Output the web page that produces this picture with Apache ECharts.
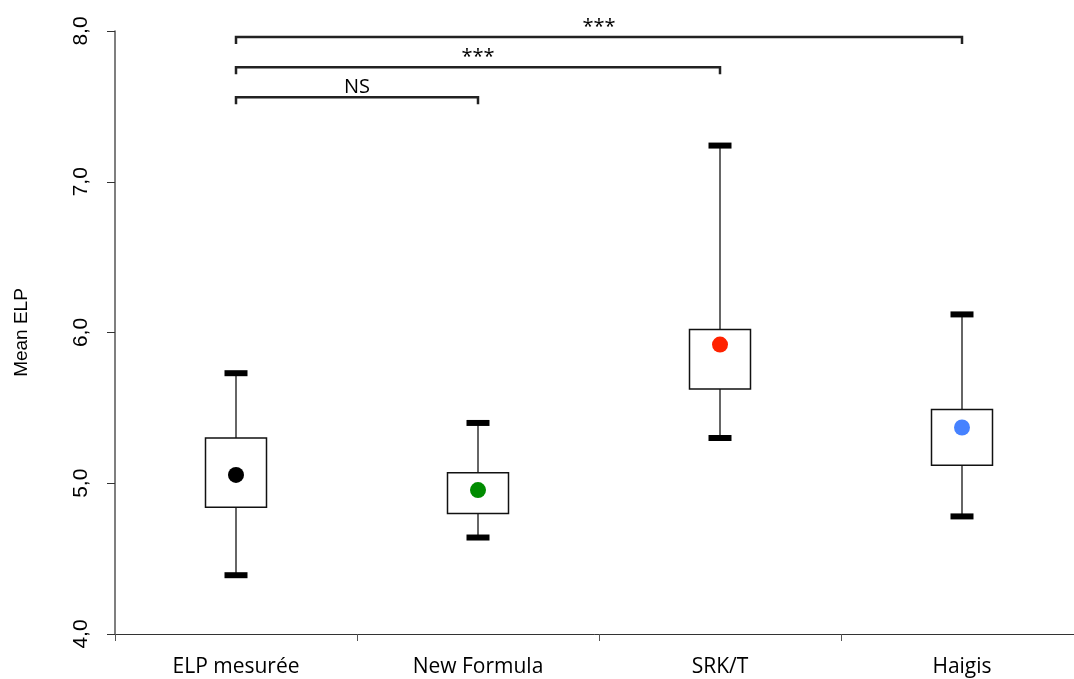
<!DOCTYPE html>
<html>
<head>
<meta charset="utf-8">
<script src="https://cdn.jsdelivr.net/npm/echarts@6/dist/echarts.min.js"></script>
<style>html,body{margin:0;padding:0;background:#fff;}#c{width:1074px;height:679px;}</style>
</head>
<body>
<div id="c"></div>
<script>
var categories = ['ELP mesurée', 'New Formula', 'SRK/T', 'Haigis'];
var whiskerLow  = [4.39, 4.64, 5.30, 4.78];
var boxLow      = [4.84, 4.80, 5.625, 5.12];
var means       = [5.055, 4.955, 5.92, 5.37];
var boxHigh     = [5.30, 5.07, 6.02, 5.49];
var whiskerHigh = [5.73, 5.40, 7.24, 6.12];
var meanColors  = ['#000000', '#008c00', '#ff2200', '#4682ff'];
var yTicks = [4, 5, 6, 7, 8];

// brackets: from category index, to category index, y level, label
var bracketFrom  = [0, 0, 0];
var bracketTo    = [3, 2, 1];
var bracketY     = [7.96, 7.76, 7.56];
var bracketLabel = ['***', '***', 'NS'];

var chart = echarts.init(document.getElementById('c'));

var boxData = categories.map(function (c, i) {
  return [i, whiskerLow[i], boxLow[i], boxHigh[i], whiskerHigh[i]];
});
var meanData = categories.map(function (c, i) {
  return { value: [i, means[i]], itemStyle: { color: meanColors[i], opacity: 1 } };
});
var bracketData = bracketFrom.map(function (f, i) {
  return [f, bracketTo[i], bracketY[i], bracketLabel[i]];
});

chart.setOption({
  animation: false,
  grid: { left: 115, right: -9, top: 31, bottom: 45, containLabel: false, outerBoundsMode: 'none' },
  xAxis: {
    type: 'category',
    data: categories,
    axisLine: { lineStyle: { color: '#333', width: 1 } },
    axisTick: { show: true, length: 7, lineStyle: { color: '#555' } },
    axisLabel: { fontFamily: 'Open Sans', fontSize: 21, color: '#000', margin: 23 }
  },
  yAxis: {
    type: 'value',
    min: 4, max: 8, interval: 1,
    name: 'Mean ELP',
    nameLocation: 'middle',
    nameGap: 84,
    nameTextStyle: { fontFamily: 'Liberation Sans', fontSize: 19, color: '#000' },
    axisLine: { show: true, lineStyle: { color: '#555', width: 1.5 } },
    axisTick: { show: true, length: 8, lineStyle: { color: '#333' } },
    splitLine: { show: false },
    axisLabel: {
      rotate: 90, margin: 23, fontFamily: 'Liberation Sans', fontSize: 21, color: '#000',
      formatter: function (v) { return v.toFixed(1).replace('.', ','); }
    }
  },
  series: [
    {
      type: 'custom',
      data: boxData,
      encode: { x: 0, y: [1, 2, 3, 4] },
      renderItem: function (params, api) {
        var x = api.value(0);
        var pWL = api.coord([x, api.value(1)]);
        var pBL = api.coord([x, api.value(2)]);
        var pBH = api.coord([x, api.value(3)]);
        var pWH = api.coord([x, api.value(4)]);
        var cx = pWL[0];
        var bw = 61, cw = 23, ch = 6;
        return {
          type: 'group',
          children: [
            { type: 'line', shape: { x1: cx, y1: pWH[1], x2: cx, y2: pBH[1] }, style: { stroke: '#666', lineWidth: 2 } },
            { type: 'line', shape: { x1: cx, y1: pBL[1], x2: cx, y2: pWL[1] }, style: { stroke: '#666', lineWidth: 2 } },
            { type: 'rect', shape: { x: cx - bw / 2, y: pBH[1], width: bw, height: pBL[1] - pBH[1] }, style: { fill: '#fff', stroke: '#111', lineWidth: 1.5 } },
            { type: 'rect', shape: { x: cx - cw / 2, y: pWH[1] - ch / 2, width: cw, height: ch }, style: { fill: '#000' } },
            { type: 'rect', shape: { x: cx - cw / 2, y: pWL[1] - ch / 2, width: cw, height: ch }, style: { fill: '#000' } }
          ]
        };
      },
      z: 2
    },
    {
      type: 'scatter',
      data: meanData,
      symbol: 'circle',
      symbolSize: 16,
      z: 5
    },
    {
      type: 'custom',
      data: bracketData,
      encode: { x: [0, 1], y: 2 },
      clip: false,
      renderItem: function (params, api) {
        var a = api.coord([api.value(0), api.value(2)]);
        var b = api.coord([api.value(1), api.value(2)]);
        var label = bracketLabel[params.dataIndex];
        var tx = a[0] + (b[0] - a[0]) * 0.5;
        return {
          type: 'group',
          children: [
            { type: 'polyline', shape: { points: [[a[0], a[1] + 7], [a[0], a[1]], [b[0], b[1]], [b[0], b[1] + 7]] }, style: { stroke: '#222', lineWidth: 2.5, fill: null } },
            { type: 'text', style: { text: label, x: tx, y: a[1], align: 'center', verticalAlign: 'bottom', font: '20px "Open Sans"', fill: '#000' } }
          ]
        };
      },
      z: 3
    }
  ]
});
</script>
</body>
</html>
